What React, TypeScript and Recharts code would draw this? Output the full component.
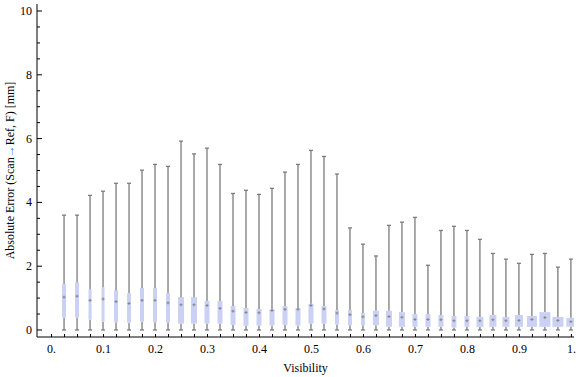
import { ComposedChart, Bar, XAxis, YAxis } from 'recharts';

const FONT = '"Liberation Serif", "Times New Roman", serif';
const WHISKER = '#7b7b7b';
const BOX_FILL = '#cbd1f4';
const MEDIAN = '#858585';

// bin centres (visibility)
const visibility = [
  0.025, 0.05, 0.075, 0.1, 0.125, 0.15, 0.175, 0.2, 0.225, 0.25,
  0.275, 0.3, 0.325, 0.35, 0.375, 0.4, 0.425, 0.45, 0.475, 0.5,
  0.525, 0.55, 0.575, 0.6, 0.625, 0.65, 0.675, 0.7, 0.725, 0.75,
  0.775, 0.8, 0.825, 0.85, 0.875, 0.9, 0.925, 0.95, 0.975, 1.0,
];
const whiskerMax = [
  3.6, 3.6, 4.22, 4.35, 4.6, 4.6, 5.01, 5.19, 5.13, 5.92,
  5.52, 5.7, 5.19, 4.28, 4.38, 4.25, 4.44, 4.95, 5.19, 5.63,
  5.44, 4.89, 3.2, 2.69, 2.32, 3.28, 3.38, 3.53, 2.03, 3.12,
  3.25, 3.12, 2.84, 2.4, 2.22, 2.09, 2.37, 2.4, 1.97, 2.22,
];
const q3 = [
  1.44, 1.5, 1.28, 1.34, 1.24, 1.15, 1.32, 1.32, 1.15, 1.03,
  1.03, 0.91, 0.91, 0.75, 0.69, 0.66, 0.66, 0.75, 0.69, 0.82,
  0.75, 0.63, 0.63, 0.53, 0.6, 0.6, 0.56, 0.5, 0.5, 0.47,
  0.44, 0.44, 0.41, 0.47, 0.41, 0.47, 0.44, 0.56, 0.41, 0.38,
];
const median = [
  1.03, 1.06, 0.93, 0.97, 0.89, 0.83, 0.93, 0.93, 0.85, 0.79,
  0.79, 0.77, 0.68, 0.59, 0.55, 0.54, 0.61, 0.65, 0.65, 0.77,
  0.66, 0.53, 0.48, 0.41, 0.45, 0.42, 0.4, 0.33, 0.33, 0.32,
  0.29, 0.29, 0.29, 0.32, 0.29, 0.3, 0.33, 0.39, 0.3, 0.26,
];
const q1 = [
  0.39, 0.39, 0.32, 0.26, 0.24, 0.23, 0.26, 0.24, 0.24, 0.2,
  0.2, 0.2, 0.2, 0.16, 0.13, 0.14, 0.14, 0.16, 0.14, 0.2,
  0.2, 0.17, 0.15, 0.15, 0.15, 0.1, 0.1, 0.1, 0.1, 0.1,
  0.08, 0.1, 0.1, 0.1, 0.1, 0.1, 0.1, 0.1, 0.1, 0.1,
];
// relative box width (sample weight per bin)
const boxWeight = [
  4, 4, 3, 3, 4, 4, 4, 4, 4, 6,
  6, 5, 5, 5, 5, 5, 5, 5, 5, 5,
  5, 4, 4, 4, 6, 6, 6, 5, 5, 5,
  5, 5, 7, 7, 7, 8, 10, 11, 11, 9,
];

const yTicks = [0, 0.5, 1, 1.5, 2, 2.5, 3, 3.5, 4, 4.5, 5, 5.5, 6, 6.5, 7, 7.5, 8, 8.5, 9, 9.5, 10];
const yMajor = [0, 2, 4, 6, 8, 10];
const xLabelTicks = [0, 0.1, 0.2, 0.3, 0.4, 0.5, 0.6, 0.7, 0.8, 0.9, 1.0];
const xTickLabels = ['0.', '0.1', '0.2', '0.3', '0.4', '0.5', '0.6', '0.7', '0.8', '0.9', '1.'];
const xTicks = [0, ...visibility];

const rows = visibility.map((v, i) => ({
  v,
  q1: q1[i],
  med: median[i],
  q3: q3[i],
  max: whiskerMax[i],
  w: boxWeight[i],
  lo: q1[i],
  box: q3[i] - q1[i],
  hi: whiskerMax[i] - q3[i],
}));

const near = (a: number, b: number) => Math.abs(a - b) < 1e-6;

function LowerWhisker(props: any) {
  const { x, y, width, height } = props;
  const cx = x + width / 2;
  return (
    <g stroke={WHISKER} strokeWidth={1.3}>
      <line x1={cx} x2={cx} y1={y} y2={y + height} />
      <line x1={cx - 2} x2={cx + 2} y1={y + height} y2={y + height} />
    </g>
  );
}

function UpperWhisker(props: any) {
  const { x, y, width, height } = props;
  const cx = x + width / 2;
  return (
    <g stroke={WHISKER} strokeWidth={1.3}>
      <line x1={cx} x2={cx} y1={y} y2={y + height} />
      <line x1={cx - 2} x2={cx + 2} y1={y} y2={y} />
    </g>
  );
}

function BoxShape(props: any) {
  const { x, y, width, height, payload } = props;
  const cx = x + width / 2;
  const w = payload.w;
  const ym = y + (height * (payload.q3 - payload.med)) / (payload.q3 - payload.q1);
  return (
    <g>
      <rect x={cx - w / 2} y={y} width={w} height={height} fill={BOX_FILL} />
      <line x1={cx - 1.5} x2={cx + 1.5} y1={ym} y2={ym} stroke={MEDIAN} strokeWidth={1} />
      <line x1={cx} x2={cx} y1={ym - 1.5} y2={ym + 1.5} stroke={MEDIAN} strokeWidth={1} />
    </g>
  );
}

function LeftTick(props: any) {
  const { x, y, payload } = props;
  const major = yMajor.some((m) => near(m, payload.value));
  return (
    <g>
      <line x1={x} x2={x + (major ? 5 : 3)} y1={y} y2={y} stroke="#000" />
      {major && (
        <text x={x - 5} y={y + 4} textAnchor="end" fontFamily={FONT} fontSize={12} fill="#000">
          {payload.value}
        </text>
      )}
    </g>
  );
}

function RightTick(props: any) {
  const { x, y, payload } = props;
  const major = yMajor.some((m) => near(m, payload.value));
  return <line x1={x} x2={x - (major ? 5 : 3)} y1={y} y2={y} stroke="#000" />;
}

function BottomTick(props: any) {
  const { x, y, payload } = props;
  const idx = xLabelTicks.findIndex((t) => near(t, payload.value));
  return (
    <g>
      <line x1={x} x2={x} y1={y} y2={y - 3} stroke="#000" />
      {idx >= 0 && (
        <text x={x} y={y + 16} textAnchor="middle" fontFamily={FONT} fontSize={12} fill="#000">
          {xTickLabels[idx]}
        </text>
      )}
    </g>
  );
}

function XTitle(props: any) {
  const vb = props.viewBox;
  return (
    <text x={vb.x + vb.width / 2} y={vb.y + 35} textAnchor="middle" fontFamily={FONT} fontSize={12} fill="#000">
      Visibility
    </text>
  );
}

function YTitle(props: any) {
  const vb = props.viewBox;
  const cy = vb.y + vb.height / 2;
  return (
    <text
      x={14}
      y={cy}
      transform={`rotate(-90, 14, ${cy})`}
      textAnchor="middle"
      fontFamily={FONT}
      fontSize={12}
      fill="#000"
    >
      Absolute Error (Scan<tspan fill="#3a6fd8">→</tspan>Ref, F) [mm]
    </text>
  );
}

export default function App() {
  return (
    <div style={{ position: 'fixed', left: 0, top: 0, background: '#fff' }}>
      <ComposedChart width={576} height={377} data={rows} margin={{ top: 4, right: 2, bottom: 0, left: 0 }}>
        <XAxis
          xAxisId="b"
          dataKey="v"
          type="number"
          domain={[-0.028, 1.005]}
          allowDataOverflow
          ticks={xTicks}
          interval={0}
          tickSize={0}
          tickMargin={0}
          height={40}
          axisLine={{ stroke: '#000' }}
          tickLine={false}
          tick={<BottomTick />}
          label={{ content: <XTitle /> }}
        />
        <XAxis
          xAxisId="t"
          orientation="top"
          type="number"
          domain={[-0.028, 1.005]}
          allowDataOverflow
          height={0}
          axisLine={{ stroke: '#000' }}
          tick={false}
          tickLine={false}
        />
        <YAxis
          yAxisId="l"
          type="number"
          domain={[-0.22, 10.22]}
          allowDataOverflow
          ticks={yTicks}
          interval={0}
          tickSize={0}
          tickMargin={0}
          width={37}
          axisLine={{ stroke: '#000' }}
          tickLine={false}
          tick={<LeftTick />}
          label={{ content: <YTitle /> }}
        />
        <YAxis
          yAxisId="r"
          orientation="right"
          type="number"
          domain={[-0.22, 10.22]}
          allowDataOverflow
          ticks={yTicks}
          interval={0}
          tickSize={0}
          tickMargin={0}
          width={0}
          axisLine={{ stroke: '#000' }}
          tickLine={false}
          tick={<RightTick />}
        />
        <Bar xAxisId="b" yAxisId="l" dataKey="lo" stackId="s" barSize={10} shape={<LowerWhisker />} isAnimationActive={false} />
        <Bar xAxisId="b" yAxisId="l" dataKey="box" stackId="s" barSize={10} shape={<BoxShape />} isAnimationActive={false} />
        <Bar xAxisId="b" yAxisId="l" dataKey="hi" stackId="s" barSize={10} shape={<UpperWhisker />} isAnimationActive={false} />
      </ComposedChart>
    </div>
  );
}
